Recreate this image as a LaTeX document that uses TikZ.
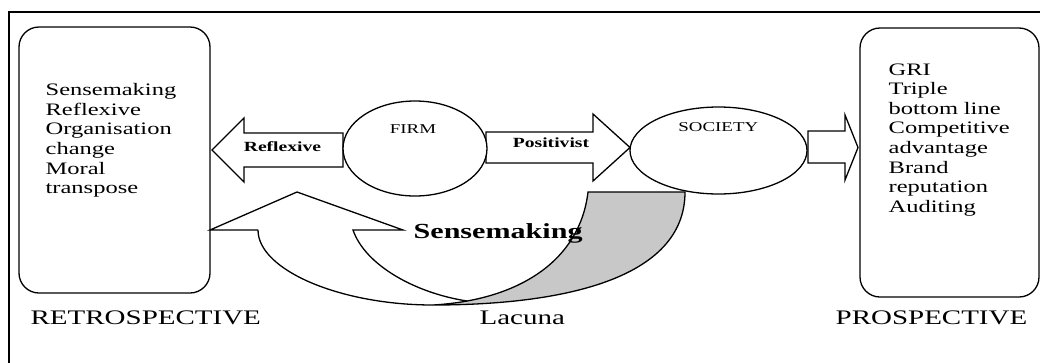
\documentclass[tikz,border=0pt]{standalone}
\usepackage{fontspec}
\setmainfont{Liberation Serif}[FakeStretch=1.4]
\usetikzlibrary{shapes.geometric}
\definecolor{lacunagray}{RGB}{200,200,200}
\begin{document}
\begin{tikzpicture}[x=1pt,y=-1pt,line width=1.3pt,
  box/.style={draw,rounded corners=20pt,inner sep=0pt},
  oval/.style={draw,ellipse,inner sep=0pt,fill=white},
  blockarrow/.style={draw,line join=miter,fill=white},
  boxtext/.style={inner sep=0pt,anchor=base west,text width=160pt,align=left,font=\fontsize{17.5}{19.6}\selectfont},
  bigword/.style={inner sep=0pt,anchor=base west,font=\fontsize{20.7}{24}\selectfont},
  arrowword/.style={inner sep=0pt,font=\bfseries\fontsize{14}{16}\selectfont},
  ovalword/.style={inner sep=0pt,font=\fontsize{13.5}{15}\selectfont},
  lacunafill/.style={draw,fill=lacunagray}]
\useasboundingbox (0,0) rectangle (1040,362);
\clip (0,0) rectangle (1040,362);
% outer frame (cut at right and bottom)
\draw[line width=1.6pt] (9,370) -- (9,12) -- (1050,12);
% side boxes
\node[box,minimum width=191pt,minimum height=266pt] (retro) at (114.5,160) {};
\node[box,minimum width=179pt,minimum height=269pt] (pros) at (949.5,162.5) {};
% block arrows
\draw[blockarrow] (343,133) -- (244,133) -- (244,118) -- (212,150) -- (244,182) -- (244,167) -- (343,167) -- cycle;
\draw[blockarrow] (486,132) -- (593,132) -- (593,114) -- (630,147.5) -- (593,181) -- (593,163) -- (486,163) -- cycle;
\draw[blockarrow] (808,131) -- (845,131) -- (845,115) -- (858,147.5) -- (845,180) -- (845,163) -- (808,163) -- cycle;
% ovals
\node[oval,minimum width=144pt,minimum height=95pt] (firm) at (415,148.5) {};
\node[oval,minimum width=177pt,minimum height=87pt] (society) at (718.5,150.5) {};
% curved sensemaking arrow
\coordinate (tip) at (210,230);
\coordinate (bandend) at (685,192);
\coordinate (bottom) at (433,305);
\draw[lacunafill] (588,192) -- (bandend) .. controls (685,280) and (560,305) .. (bottom)
   .. controls (520,300) and (580,260) .. (588,192) -- cycle;
\draw (258,230) -- (tip) -- (297,192) -- (403,230) -- (353,230)
   .. controls (365,265) and (415,293) .. (467,301);
\draw (258,230) .. controls (258,270) and (340,305) .. (bottom);
% texts
\node[boxtext] (retrotext) at (45,95.7) {Sensemaking\\Reflexive\\Organisation\\change\\Moral\\transpose};
\node[boxtext] (prostext) at (888,75) {GRI\\Triple\\bottom line\\Competitive\\advantage\\Brand\\reputation\\Auditing};
\node[bigword] (retrolabel) at (30,324) {RETROSPECTIVE};
\node[bigword] (proslabel) at (835,324) {PROSPECTIVE};
\node[bigword] (lacuna) at (479,324) {Lacuna};
\node[arrowword] (reflexiveword) at (282.5,147) {Reflexive};
\node[arrowword] (positivistword) at (551,143) {Positivist};
\node[ovalword] (firmword) at (413,128.7) {FIRM};
\node[ovalword] (societyword) at (718.3,127) {SOCIETY};
\node[inner sep=0pt,anchor=base west,font=\bfseries\fontsize{21.5}{24}\selectfont] (sensemakingword) at (413,238) {Sensemaking};
\end{tikzpicture}
\end{document}
